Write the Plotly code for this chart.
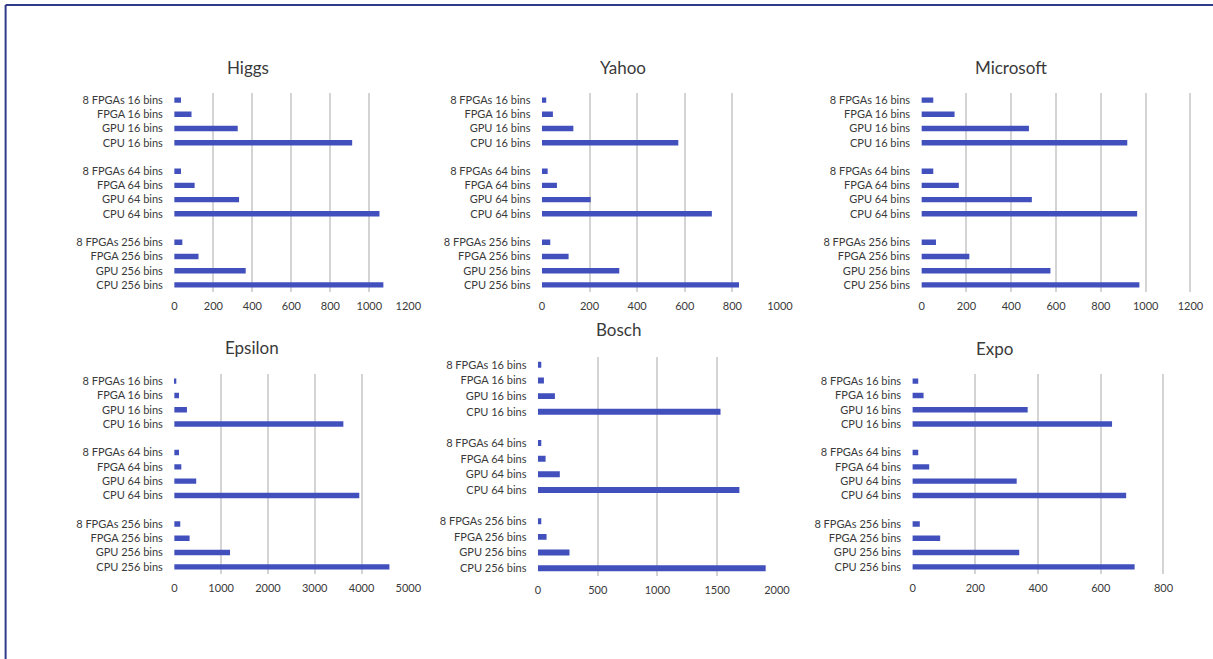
import plotly.graph_objects as go

W, H = 1230, 659

# Category labels, top to bottom (a blank slot separates bin groups)
labels = [
    "8 FPGAs 16 bins", "FPGA 16 bins", "GPU 16 bins", "CPU 16 bins",
    "8 FPGAs 64 bins", "FPGA 64 bins", "GPU 64 bins", "CPU 64 bins",
    "8 FPGAs 256 bins", "FPGA 256 bins", "GPU 256 bins", "CPU 256 bins",
]

higgs = [34, 88, 325, 912, 34, 104, 332, 1052, 41, 124, 366, 1072]
yahoo = [18, 46, 132, 573, 24, 63, 205, 714, 35, 112, 325, 828]
microsoft = [52, 147, 479, 918, 52, 166, 492, 962, 64, 213, 575, 972]
epsilon = [42, 99, 269, 3612, 99, 149, 467, 3952, 127, 326, 1190, 4596]
bosch = [28, 50, 142, 1528, 28, 64, 183, 1686, 28, 72, 264, 1906]
expo = [18, 35, 367, 636, 18, 53, 332, 681, 23, 88, 340, 708]

titles = ["Higgs", "Yahoo", "Microsoft", "Epsilon", "Bosch", "Expo"]
series = [higgs, yahoo, microsoft, epsilon, bosch, expo]
x_max = [1200, 1000, 1200, 5000, 2000, 800]
x_step = [200, 200, 200, 1000, 500, 200]

# slot index of each category (skip one slot between groups)
slots = [i + i // 4 for i in range(len(labels))]

# panel layout in target pixels: (x0, x1, y_top, y_bottom), title centre (x, y)
panels = [
    (174, 409, 93, 292),
    (541, 780, 93, 292),
    (920, 1190, 93, 292),
    (174, 409, 374, 574),
    (537, 777, 357, 576),
    (911, 1163, 374, 574),
]
title_pos = [(248, 67), (622, 67), (1010, 67), (252, 347), (618, 329), (993, 348)]

# horizontal calibration of the capture (measured on earlier renders)
SX, BX = 0.9862, 3.4


def px(x):
    return (x - BX) / SX / W


def py(y):
    return 1 - y / H


BAR = "#4150BC"
TXT = "#3a3a3a"
GRID = "#d4d4d4"
FONT = "Lato"

fig = go.Figure()
for k, (vals, title) in enumerate(zip(series, titles)):
    ax = "" if k == 0 else str(k + 1)
    fig.add_trace(go.Bar(
        x=vals, y=slots, orientation="h", marker=dict(color=BAR, line=dict(width=0)),
        width=0.38, xaxis="x" + ax, yaxis="y" + ax, showlegend=False,
    ))
    x0, x1, yt, yb = panels[k]
    fig.layout["xaxis" + ax] = dict(
        domain=[px(x0), px(x1)], anchor="y" + ax,
        range=[-x_max[k] * 0.002, x_max[k] * 1.004],
        tickvals=list(range(0, x_max[k] + 1, x_step[k])),
        showgrid=True, gridcolor=GRID, gridwidth=1.5,
        zeroline=False, showline=False,
        tickfont=dict(family=FONT, size=11, color=TXT),
        ticklabelstandoff=6, fixedrange=True,
    )
    fig.layout["yaxis" + ax] = dict(
        domain=[py(yb), py(yt)], anchor="x" + ax,
        range=[13.5, -0.5],
        tickvals=slots, ticktext=labels,
        showgrid=False, zeroline=False, showline=False,
        tickfont=dict(family=FONT, size=11, color=TXT),
        ticklabelstandoff=10, fixedrange=True,
    )
    tx, ty = title_pos[k]
    fig.add_annotation(
        x=px(tx), y=py(ty), xref="paper", yref="paper",
        text=title, showarrow=False, xanchor="center", yanchor="middle",
        font=dict(family=FONT, size=17, color=TXT),
    )

# outer frame (top and left edges visible in the reference)
fig.add_shape(type="line", xref="paper", yref="paper",
              x0=px(6), x1=1.0, y0=py(5), y1=py(5),
              line=dict(color="#2f3a8a", width=2))
fig.add_shape(type="line", xref="paper", yref="paper",
              x0=px(6), x1=px(6), y0=0, y1=py(5),
              line=dict(color="#2f3a8a", width=2))

fig.update_layout(
    width=W, height=H,
    margin=dict(l=0, r=0, t=0, b=0),
    paper_bgcolor="white", plot_bgcolor="white",
    bargap=0.6,
)

fig.write_html(
    "out.html",
    config={"displayModeBar": False},
    post_script="document.body.style.margin='0';document.body.style.overflow='hidden';",
)
